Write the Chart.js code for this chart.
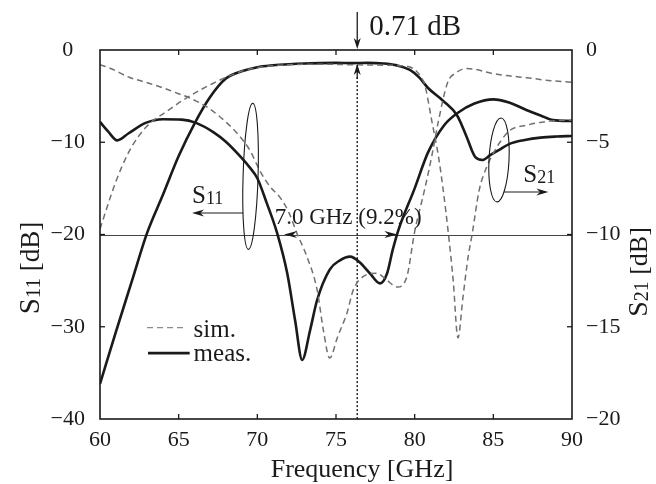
<!DOCTYPE html>
<html>
<head>
<meta charset="utf-8">
<script src="https://cdn.jsdelivr.net/npm/chart.js@4.4.1/dist/chart.umd.min.js"></script>
<style>
  html, body { margin: 0; padding: 0; background: #fff; }
</style>
</head>
<body>
<canvas id="myChart" width="656" height="484"></canvas>
<script>
(function () {
    // S11 (left axis, dB)
    const freqS11Sim = [60, 60.6, 61.85, 63, 64, 65, 65.7, 66.9, 68, 68.8, 69.5, 70.2, 70.8, 71.45, 72, 72.5, 73.15, 73.8, 74.2, 74.6, 75.1, 75.7, 76.1, 76.7, 77.6, 78.2, 78.9, 79.5, 80, 80.65, 81.1, 81.5, 82.1, 82.6, 83.3, 84, 84.8, 86, 87.1, 88.5, 90];
    const s11Sim = [-1.6, -1.95, -2.95, -3.55, -4.1, -4.75, -5.2, -6.3, -7.8, -9.2, -10.8, -13.2, -14.8, -16.0, -17.6, -19.8, -22.4, -26.0, -30.4, -33.4, -31.1, -28.5, -26.0, -24.6, -24.2, -24.9, -25.7, -24.6, -19.7, -15.0, -11.4, -7.8, -3.5, -2.5, -2.0, -2.15, -2.5, -2.8, -3.0, -3.3, -3.5];

    const freqS11Meas = [60, 60.5, 61.1, 61.8, 62.9, 64, 65.2, 66.1, 67.2, 68, 69, 69.5, 70, 70.6, 71.25, 71.9, 72.4, 72.85, 73.35, 73.8, 74.6, 75.25, 75.9, 76.5, 77.15, 77.8, 78.25, 78.6, 78.95, 80, 80.85, 81.9, 82.75, 83.8, 85, 86, 87.1, 88, 88.8, 90];
    const s11Meas = [-7.8, -8.8, -9.8, -9.05, -7.9, -7.5, -7.55, -7.9, -8.9, -9.95, -11.7, -12.7, -13.9, -16.6, -19.8, -24.2, -29.3, -33.6, -30.4, -27.1, -23.8, -22.8, -22.4, -23.0, -24.2, -25.3, -24.2, -21.7, -19.6, -15.0, -11.1, -8.1, -6.8, -5.8, -5.35, -5.7, -6.5, -7.1, -7.6, -7.7];

    // S21 (right axis, dB)
    const freqS21Sim = [60, 61, 61.85, 62.9, 64.2, 65.5, 67.2, 68.1, 69, 70, 71, 72, 74, 76, 78, 79, 79.9, 80.5, 80.65, 81.1, 81.5, 81.8, 82.15, 82.45, 82.75, 83.07, 83.4, 83.65, 84.1, 84.55, 85, 85.5, 86.06, 87.15, 88.6, 90];
    const s21Sim = [-9.7, -7.15, -5.5, -4.2, -3.35, -2.6, -1.8, -1.45, -1.15, -0.95, -0.85, -0.8, -0.77, -0.8, -0.82, -0.85, -1.0, -1.6, -1.9, -3.9, -5.7, -7.5, -10.0, -12.5, -15.6, -13.4, -11.2, -10.0, -7.6, -6.4, -5.6, -4.9, -4.35, -4.07, -3.85, -3.8];

    const freqS21Meas = [60, 61, 62, 63, 64, 65, 66, 67, 68, 69, 70, 71, 72, 73, 74, 75, 76, 77, 78, 78.8, 79.7, 80.3, 80.85, 81.8, 82.7, 83.3, 83.85, 84.3, 84.8, 85.4, 86, 87, 88, 89, 90];
    const s21Meas = [-18.1, -15.3, -12.6, -9.9, -7.85, -5.75, -4.0, -2.55, -1.55, -1.15, -0.93, -0.83, -0.77, -0.73, -0.71, -0.7, -0.71, -0.7, -0.73, -0.82, -1.08, -1.5, -2.06, -2.75, -3.55, -4.7, -5.8, -5.96, -5.7, -5.4, -5.1, -4.88, -4.75, -4.69, -4.66];

    // tick values
    const freqTicks = [60, 65, 70, 75, 80, 85, 90];
    const s11Ticks = [0, -10, -20, -30, -40];
    const s21Ticks = [0, -5, -10, -15, -20];

    // annotations
    const markerFreq = 76.35;
    const insertionLoss = -0.71;
    const refLevel = -20;
    const bandEdges = [71.7, 78.9];

    const serif = '"Liberation Serif", "Times New Roman", serif';
    const ink = '#1a1a1a';
    const simColor = '#707070';

    const pts = (xs, ys) => xs.map((v, i) => ({ x: v, y: ys[i] }));
    const minus = v => String(v).replace('-', '\u2212');

    function arrowHead(ctx, x, y, angle, len, half) {
        ctx.save();
        ctx.translate(x, y);
        ctx.rotate(angle);
        ctx.beginPath();
        ctx.moveTo(0, 0);
        ctx.lineTo(-len, -half);
        ctx.lineTo(-len * 0.7, 0);
        ctx.lineTo(-len, half);
        ctx.closePath();
        ctx.fill();
        ctx.restore();
    }

    function line(ctx, x1, y1, x2, y2) {
        ctx.beginPath();
        ctx.moveTo(x1, y1);
        ctx.lineTo(x2, y2);
        ctx.stroke();
    }

    // text with a smaller subscript part, e.g. S + 11 + [dB]
    function subText(ctx, parts, x, y, align) {
        let w = 0;
        parts.forEach(p => { ctx.font = p.size + 'px ' + serif; w += ctx.measureText(p.t).width; });
        let cx = align === 'center' ? x - w / 2 : x;
        ctx.textAlign = 'left';
        ctx.textBaseline = 'alphabetic';
        parts.forEach(p => {
            ctx.font = p.size + 'px ' + serif;
            ctx.fillText(p.t, cx, y + (p.dy || 0));
            cx += ctx.measureText(p.t).width;
        });
    }

    const decor = {
        id: 'decor',
        beforeDatasetsDraw(chart) {
            const { ctx, chartArea: a, scales: { x, y, y2 } } = chart;
            ctx.save();
            // -20 dB reference
            const yr = Math.round(y.getPixelForValue(refLevel)) + 0.5;
            ctx.strokeStyle = '#444';
            ctx.lineWidth = 1;
            line(ctx, a.left, yr, a.right, yr);
            // dotted marker
            const xm = x.getPixelForValue(markerFreq);
            ctx.setLineDash([2, 2]);
            ctx.lineWidth = 1.4;
            ctx.strokeStyle = ink;
            line(ctx, xm, y2.getPixelForValue(insertionLoss) + 14, xm, a.bottom);
            ctx.restore();
        },
        afterDatasetsDraw(chart) {
            const { ctx, chartArea: a, scales: { x, y, y2 } } = chart;
            ctx.save();
            ctx.strokeStyle = ink;
            ctx.fillStyle = ink;

            // frame
            ctx.lineWidth = 1.6;
            ctx.strokeRect(a.left, a.top, a.right - a.left, a.bottom - a.top);

            // inward ticks
            ctx.lineWidth = 1.3;
            freqTicks.slice(1, -1).forEach(v => {
                const px = x.getPixelForValue(v);
                line(ctx, px, a.bottom, px, a.bottom - 5);
                line(ctx, px, a.top, px, a.top + 5);
            });
            s11Ticks.slice(1, -1).forEach(v => {
                const py = y.getPixelForValue(v);
                line(ctx, a.left, py, a.left + 5, py);
            });
            s21Ticks.slice(1, -1).forEach(v => {
                const py = y2.getPixelForValue(v);
                line(ctx, a.right, py, a.right - 5, py);
            });

            // insertion loss marker
            const xm = x.getPixelForValue(markerFreq);
            const yl = y2.getPixelForValue(insertionLoss);
            ctx.lineWidth = 1.3;
            line(ctx, xm, yl + 2, xm, yl + 16);
            arrowHead(ctx, xm, yl + 1, -Math.PI / 2, 11, 3.5);
            line(ctx, xm, 12, xm, a.top - 6);
            arrowHead(ctx, xm, a.top - 1, Math.PI / 2, 11, 3.5);
            ctx.font = '29px ' + serif;
            ctx.textAlign = 'left';
            ctx.textBaseline = 'alphabetic';
            ctx.fillText('0.71 dB', xm + 12, 35);

            // bandwidth arrow
            const yr = y.getPixelForValue(refLevel);
            const bx1 = x.getPixelForValue(bandEdges[0]);
            const bx2 = x.getPixelForValue(bandEdges[1]);
            arrowHead(ctx, bx1, yr, Math.PI, 13, 3.5);
            arrowHead(ctx, bx2, yr, 0, 13, 3.5);
            ctx.font = '23px ' + serif;
            ctx.fillText('7.0 GHz (9.2%)', x.getPixelForValue(71.1), yr - 11);

            // S11 bracket
            ctx.lineWidth = 1.1;
            ctx.beginPath();
            ctx.ellipse(x.getPixelForValue(69.57), y.getPixelForValue(-13.7), 7.5, 73, 0.03, 0, Math.PI * 2);
            ctx.stroke();
            const ya = y.getPixelForValue(-17.67);
            line(ctx, x.getPixelForValue(69.1), ya, x.getPixelForValue(66.2), ya);
            arrowHead(ctx, x.getPixelForValue(65.85), ya, Math.PI, 12, 3.5);
            ctx.fillStyle = ink;
            subText(ctx, [{ t: 'S', size: 25 }, { t: '11', size: 18, dy: 1 }], x.getPixelForValue(65.85), y.getPixelForValue(-16.6));

            // S21 bracket
            ctx.beginPath();
            ctx.ellipse(x.getPixelForValue(85.36), y2.getPixelForValue(-5.96), 10, 42, 0.05, 0, Math.PI * 2);
            ctx.stroke();
            const yb = y2.getPixelForValue(-7.7);
            line(ctx, x.getPixelForValue(85.68), yb, x.getPixelForValue(88.2), yb);
            arrowHead(ctx, x.getPixelForValue(88.5), yb, 0, 12, 3.5);
            subText(ctx, [{ t: 'S', size: 25 }, { t: '21', size: 18, dy: 1 }], x.getPixelForValue(86.9), y2.getPixelForValue(-7.15));

            // legend
            const ls = y.getPixelForValue(-30.1);
            const lm = y.getPixelForValue(-32.85);
            ctx.strokeStyle = '#8a8a8a';
            ctx.lineWidth = 1.4;
            ctx.setLineDash([6, 4]);
            line(ctx, x.getPixelForValue(62.99), ls, x.getPixelForValue(65.53), ls);
            ctx.setLineDash([]);
            ctx.strokeStyle = ink;
            ctx.lineWidth = 2.8;
            line(ctx, x.getPixelForValue(63.05), lm, x.getPixelForValue(65.7), lm);
            ctx.font = '25px ' + serif;
            ctx.textAlign = 'left';
            ctx.fillText('sim.', x.getPixelForValue(65.95), ls + 9);
            ctx.fillText('meas.', x.getPixelForValue(65.95), lm + 8);
            ctx.restore();
        },
        afterDraw(chart) {
            const { ctx, chartArea: a } = chart;
            ctx.save();
            ctx.fillStyle = ink;
            ctx.font = '26px ' + serif;
            ctx.textAlign = 'center';
            ctx.textBaseline = 'alphabetic';
            ctx.fillText('Frequency [GHz]', (a.left + a.right) / 2 + 26, 477);

            const yTitle = [{ t: 'S', size: 29 }, { t: '11', size: 21, dy: 1 }, { t: ' [dB]', size: 27 }];
            ctx.save();
            ctx.translate(39, 268);
            ctx.rotate(-Math.PI / 2);
            subText(ctx, yTitle, 0, 0, 'center');
            ctx.restore();

            const y2Title = [{ t: 'S', size: 28 }, { t: '21', size: 20, dy: 1 }, { t: ' [dB]', size: 26 }];
            ctx.save();
            ctx.translate(647, 272);
            ctx.rotate(-Math.PI / 2);
            subText(ctx, y2Title, 0, 0, 'center');
            ctx.restore();
            ctx.restore();
        }
    };

    const tickFont = { family: serif, size: 22 };

    const ctx = document.getElementById('myChart');

    new Chart(ctx, {
        type: 'line',
        data: {
            datasets: [{
                label: 'S11 sim.',
                data: pts(freqS11Sim, s11Sim),
                yAxisID: 'y',
                borderColor: simColor,
                borderWidth: 1.5,
                borderDash: [6, 4],
                pointRadius: 0,
                cubicInterpolationMode: 'monotone'
              },{
                label: 'S21 sim.',
                data: pts(freqS21Sim, s21Sim),
                yAxisID: 'y2',
                borderColor: simColor,
                borderWidth: 1.5,
                borderDash: [6, 4],
                pointRadius: 0,
                cubicInterpolationMode: 'monotone'
              },{
                label: 'S11 meas.',
                data: pts(freqS11Meas, s11Meas),
                yAxisID: 'y',
                borderColor: ink,
                borderWidth: 2.6,
                pointRadius: 0,
                cubicInterpolationMode: 'monotone'
              },{
                label: 'S21 meas.',
                data: pts(freqS21Meas, s21Meas),
                yAxisID: 'y2',
                borderColor: ink,
                borderWidth: 2.6,
                pointRadius: 0,
                cubicInterpolationMode: 'monotone'
              }]
        },
        options: {
            responsive: false,
            animation: false,
            devicePixelRatio: 1,
            layout: { padding: { top: 50, left: 0, right: 0, bottom: 0 } },
            plugins: { legend: { display: false }, tooltip: { enabled: false } },
            scales: {
                x: {
                    type: 'linear',
                    position: 'bottom',
                    min: 60,
                    max: 90,
                    afterBuildTicks: s => { s.ticks = freqTicks.map(v => ({ value: v })); },
                    afterFit: s => { s.height = 65; },
                    grid: { display: false },
                    border: { display: false },
                    ticks: { font: tickFont, color: ink, padding: 0, maxRotation: 0 }
                },
                y: {
                    position: 'left',
                    min: -40,
                    max: 0,
                    afterBuildTicks: s => { s.ticks = s11Ticks.map(v => ({ value: v })); },
                    afterFit: s => { s.width = 100; },
                    grid: { display: false },
                    border: { display: false },
                    ticks: { font: tickFont, color: ink, padding: 7, crossAlign: 'center', callback: minus }
                },
                y2: {
                    position: 'right',
                    min: -20,
                    max: 0,
                    afterBuildTicks: s => { s.ticks = s21Ticks.map(v => ({ value: v })); },
                    afterFit: s => { s.width = 84; },
                    grid: { display: false },
                    border: { display: false },
                    ticks: { font: tickFont, color: ink, padding: 6, callback: minus }
                }
            }
        },
        plugins: [decor]
    });
})();
</script>
</body>
</html>
